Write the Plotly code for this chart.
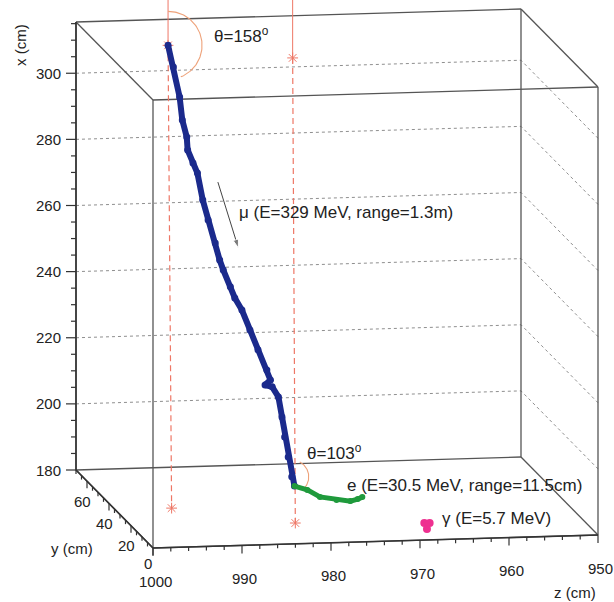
import numpy as np
import plotly.graph_objects as go

# ------------------------------------------------------------------ data
X_RANGE = [180.0, 315.5]      # x (cm): vertical axis of the box
Y_RANGE = [0.0, 70.0]         # y (cm): depth axis of the box
Z_RANGE = [1000.0, 950.0]     # z (cm): horizontal axis (decreasing)

X_TICKS = [180, 200, 220, 240, 260, 280, 300]
X_GRID = [200, 220, 240, 260, 280, 300]
Y_TICKS = [0, 20, 40, 60]
Z_TICKS = [1000, 990, 980, 970, 960, 950]

MUON_DEPTH = 47.0
muon_z = [992.5, 991.9, 991.2, 990.9, 990.4, 990.3, 989.7, 989.2, 988.6, 988.0,
          987.2, 986.7, 986.3, 985.5, 985.0, 984.2, 983.3, 982.4, 981.4, 981.0,
          981.6, 980.8, 980.1, 979.7, 979.4, 979.0, 978.6, 978.3]
muon_x = [315.6, 309.0, 299.9, 292.9, 287.7, 283.8, 279.8, 276.7, 268.5, 262.4,
          255.4, 250.2, 247.2, 242.0, 238.6, 234.9, 228.8, 222.7, 216.5, 213.5,
          212.0, 211.4, 208.3, 202.2, 196.1, 190.0, 184.0, 181.2]

elec_z = [978.3, 977.1, 976.3, 974.8, 973.5, 972.8, 972.4]
elec_x = [181.2, 180.6, 180.1, 180.1, 180.3, 181.2, 182.1]
elec_y = [47.0, 45.0, 40.0, 37.0, 35.0, 34.0, 33.0]

gamma_z = [968.9, 968.3, 968.6]
gamma_x = [183.4, 183.4, 181.6]
gamma_y = [5.0, 5.0, 5.0]

# vertical reference lines through the muon start and the decay point
ref_y = [47.0, 47.0]
ref_z_top = [992.5, 978.5]
ref_z_bot = [992.1, 978.2]
ref_x_out = [330.0, 330.0]
ref_x_star1 = [315.6, 310.7]
ref_x_star2 = [175.6, 170.0]

# opening angles and their vertices
theta_deg = [158, 103]
vertex_x = [315.6, 184.0]
vertex_y = [47.0, 47.0]
vertex_z = [992.5, 978.6]

arrow_from = (273.8, 47.0, 986.9)
arrow_to = (253.7, 47.0, 984.6)

# ------------------------------------------------------------------ projection (oblique view)
U0, V0 = 153.0, 548.0
KZ_U = 445.0 / 50.0
KZ_V = 13.0 / 50.0
KX = 448.0 / (X_RANGE[1] - X_RANGE[0])
KY_U = 77.0 / 70.0
KY_V = 78.0 / 70.0


def proj(x, y, z):
    x = np.asarray(x, float)
    y = np.asarray(y, float)
    z = np.asarray(z, float)
    d = Z_RANGE[0] - z
    u = U0 + KZ_U * d - KY_U * y
    v = V0 - KZ_V * d - KX * (x - X_RANGE[0]) - KY_V * y
    return u, v


def segs(seglist):
    us, vs = [], []
    for pts in seglist:
        for (uu, vv) in pts:
            us.append(uu)
            vs.append(vv)
        us.append(None)
        vs.append(None)
    return us, vs


def P(x, y, z):
    u, v = proj(x, y, z)
    return (float(u), float(v))


fig = go.Figure()
FONT = "Liberation Sans, Arial, Helvetica, sans-serif"
BOX_COL = "#555555"
AX_COL = "#333333"

# ---- dotted grid on back and right faces
grid = []
for xg in X_GRID:
    grid.append([P(xg, Y_RANGE[1], Z_RANGE[0]), P(xg, Y_RANGE[1], Z_RANGE[1]),
                 P(xg, Y_RANGE[0], Z_RANGE[1])])
gu, gv = segs(grid)
fig.add_trace(go.Scatter(x=gu, y=gv, mode="lines",
                         line=dict(color="#8f8f8f", width=1, dash="dot"), hoverinfo="skip"))

# ---- box edges
xs, ys, zs = X_RANGE, Y_RANGE, Z_RANGE
edges = []
for xa in xs:
    for ya in ys:
        edges.append([P(xa, ya, zs[0]), P(xa, ya, zs[1])])
    for za in zs:
        edges.append([P(xa, ys[0], za), P(xa, ys[1], za)])
for ya in ys:
    for za in zs:
        edges.append([P(xs[0], ya, za), P(xs[1], ya, za)])
bu, bv = segs(edges)
fig.add_trace(go.Scatter(x=bu, y=bv, mode="lines",
                         line=dict(color=BOX_COL, width=1.3), hoverinfo="skip"))

# ---- axes lines (darker)
axl = [[P(xs[0], ys[1], zs[0]), P(xs[1], ys[1], zs[0])],
       [P(xs[0], ys[0], zs[0]), P(xs[0], ys[1], zs[0])],
       [P(xs[0], ys[0], zs[0]), P(xs[0], ys[0], zs[1])]]
au, av = segs(axl)
fig.add_trace(go.Scatter(x=au, y=av, mode="lines",
                         line=dict(color=AX_COL, width=1.6), hoverinfo="skip"))

# ---- ticks
ticks = []
for xv in np.arange(180, 316, 5):
    u, v = P(xv, ys[1], zs[0])
    ln = 10 if xv % 20 == 0 else 5
    ticks.append([(u, v), (u - ln, v)])
for zv in np.arange(1000, 949, -2):
    u, v = P(xs[0], ys[0], zv)
    ln = 8 if zv % 10 == 0 else 4
    ticks.append([(u, v), (u, v + ln)])
for yv in np.arange(0, 71, 5):
    u, v = P(xs[0], yv, zs[0])
    ln = 7 if yv % 20 == 0 else 4
    ticks.append([(u, v), (u, v + ln)])
tu, tv = segs(ticks)
fig.add_trace(go.Scatter(x=tu, y=tv, mode="lines",
                         line=dict(color=AX_COL, width=1.2), hoverinfo="skip"))

TICK_FONT = dict(size=15)
ann = []
for xv in X_TICKS:
    u, v = P(xv, ys[1], zs[0])
    ann.append(dict(x=u - 13, y=v, text=str(xv), xanchor="right", yanchor="middle", font=TICK_FONT))
for zv in Z_TICKS:
    u, v = P(xs[0], ys[0], zv)
    ann.append(dict(x=u + 2, y=v + 33, text=str(zv), xanchor="center", yanchor="middle", font=TICK_FONT))
for yv in Y_TICKS:
    u, v = P(xs[0], yv, zs[0])
    dv = 15 if yv == 0 else 20
    ann.append(dict(x=u - 5, y=v + dv, text=str(yv), xanchor="center", yanchor="middle", font=TICK_FONT))

ann.append(dict(x=20, y=45, text="x (cm)", textangle=-90, xanchor="center", yanchor="middle",
                font=TICK_FONT))
ann.append(dict(x=72, y=548, text="y (cm)", xanchor="center", yanchor="middle", font=TICK_FONT))
ann.append(dict(x=575, y=592, text="z (cm)", xanchor="center", yanchor="middle", font=TICK_FONT))

# ---- reference vertical lines
RED = "#ee7766"
solid, dashed = [], []
for i in range(2):
    solid.append([P(ref_x_out[i], ref_y[i], ref_z_top[i]), P(ref_x_star1[i], ref_y[i], ref_z_top[i])])
    dashed.append([P(ref_x_star1[i], ref_y[i], ref_z_top[i]), P(ref_x_star2[i], ref_y[i], ref_z_bot[i])])
su, sv = segs(solid)
du, dv = segs(dashed)
fig.add_trace(go.Scatter(x=su, y=sv, mode="lines", line=dict(color=RED, width=1), hoverinfo="skip"))
fig.add_trace(go.Scatter(x=du, y=dv, mode="lines", line=dict(color=RED, width=1.2, dash="6px,4px"),
                         hoverinfo="skip"))
star_u, star_v = proj(ref_x_star1 + ref_x_star2, ref_y + ref_y, ref_z_top + ref_z_bot)
fig.add_trace(go.Scatter(x=star_u, y=star_v, mode="markers",
                         marker=dict(symbol="asterisk-open", size=9, color=RED,
                                     line=dict(color=RED, width=1)), hoverinfo="skip"))

# ---- angle arcs
ARC_R = [34, 17]
ARC_START = [90, 62]
for i in range(2):
    cu, cv = P(vertex_x[i], vertex_y[i], vertex_z[i])
    a = np.radians(np.linspace(ARC_START[i], ARC_START[i] - theta_deg[i], 80))
    fig.add_trace(go.Scatter(x=cu + ARC_R[i] * np.cos(a), y=cv - ARC_R[i] * np.sin(a), mode="lines",
                             line=dict(color="#eea27a", width=1.1), hoverinfo="skip"))

# ---- tracks
mu_u, mu_v = proj(muon_x, [MUON_DEPTH] * len(muon_x), muon_z)
fig.add_trace(go.Scatter(x=mu_u, y=mu_v, mode="lines+markers",
                         line=dict(color="#1b2a8c", width=6),
                         marker=dict(color="#1b2a8c", size=7), hoverinfo="skip"))
e_u, e_v = proj(elec_x, elec_y, elec_z)
fig.add_trace(go.Scatter(x=e_u, y=e_v, mode="lines+markers",
                         line=dict(color="#1f9a3c", width=5),
                         marker=dict(color="#1f9a3c", size=6), hoverinfo="skip"))
g_u, g_v = proj(gamma_x, gamma_y, gamma_z)
fig.add_trace(go.Scatter(x=g_u, y=g_v, mode="markers",
                         marker=dict(color="#ee3090", size=8), hoverinfo="skip"))

# ---- arrow beside the muon track
au1, av1 = P(*arrow_from)
au2, av2 = P(*arrow_to)
fig.add_trace(go.Scatter(x=[au1, au2], y=[av1, av2], mode="lines+markers",
                         line=dict(color="#444444", width=1),
                         marker=dict(symbol=["circle", "arrow"], size=[0, 9], angleref="previous",
                                     color="#444444"),
                         hoverinfo="skip"))

# ---- labels
v1u, v1v = P(vertex_x[0], vertex_y[0], vertex_z[0])
v2u, v2v = P(vertex_x[1], vertex_y[1], vertex_z[1])
EV = dict(size=17)
ann.append(dict(x=v1u + 44, y=v1v - 10, text="θ=158<sup>o</sup>", xanchor="left", yanchor="middle",
                font=EV))
ann.append(dict(x=v2u + 13, y=v2v - 25, text="θ=103<sup>o</sup>", xanchor="left", yanchor="middle",
                font=EV))
ann.append(dict(x=au2 - 1, y=av2 - 35, text="μ (E=329 MeV, range=1.3m)", xanchor="left",
                yanchor="middle", font=EV))
ann.append(dict(x=345, y=485, text="e (E=30.5 MeV, range=11.5cm)", xanchor="left", yanchor="middle",
                font=EV))
ann.append(dict(x=440, y=518, text="γ (E=5.7 MeV)", xanchor="left", yanchor="middle",
                font=EV))

for a_ in ann:
    a_.setdefault("xref", "x")
    a_.setdefault("yref", "y")
    a_.setdefault("showarrow", False)

fig.update_layout(
    width=614, height=602,
    margin=dict(l=0, r=0, t=0, b=0),
    paper_bgcolor="white", plot_bgcolor="white",
    showlegend=False,
    font=dict(family=FONT, size=16, color="#222222"),
    xaxis=dict(range=[0, 614], visible=False, fixedrange=True),
    yaxis=dict(range=[602, 0], visible=False, fixedrange=True),
    annotations=ann,
)

fig.write_html("out.html", post_script="document.body.style.margin='0';",
               config={"displayModeBar": False})
